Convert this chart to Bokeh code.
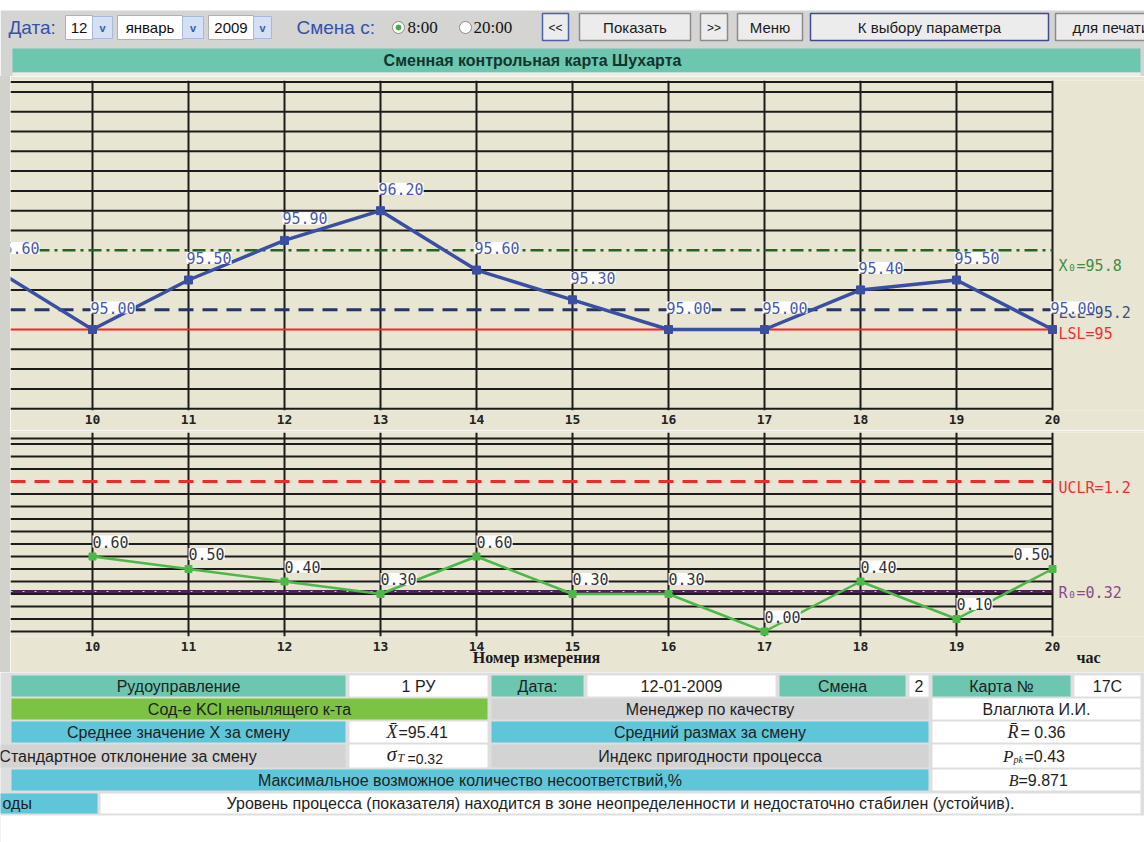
import numpy as np
from bokeh.plotting import figure
from bokeh.models import Range1d, FixedTicker, LabelSet, Label, ColumnDataSource, Div, LinearAxis
from bokeh.layouts import column, row
from bokeh.embed import file_html
from bokeh.resources import INLINE
from bokeh.core.properties import value

# ---------------- data ----------------
hours = [9, 10, 11, 12, 13, 14, 15, 16, 17, 18, 19, 20]
x_values = [95.60, 95.00, 95.50, 95.90, 96.20, 95.60, 95.30, 95.00, 95.00, 95.40, 95.50, 95.00]
r_hours = [10, 11, 12, 13, 14, 15, 16, 17, 18, 19, 20]
r_values = [0.60, 0.50, 0.40, 0.30, 0.60, 0.30, 0.30, 0.00, 0.40, 0.10, 0.50]
tick_hours = [10, 11, 12, 13, 14, 15, 16, 17, 18, 19, 20]
x_center = 95.8
x_lcl = 95.2
x_lsl = 95.0
r_ucl = 1.2
r_center = 0.32
x_levels = [94.2, 94.4, 94.6, 94.8, 95.0, 95.2, 95.4, 95.6, 95.8, 96.0, 96.2, 96.4, 96.6, 96.8, 97.0, 97.2, 97.4]
r_levels = [0.0, 0.1, 0.2, 0.3, 0.4, 0.5, 0.6, 0.7, 0.8, 0.9, 1.0, 1.1, 1.2, 1.3, 1.4, 1.5]
x_top_border = 97.5
r_top_border = 1.545
# axis caption ("Номер измерения") and unit ("час") under the range chart
caption_ticks = [14.625, 20.375]
caption_labels = ["Номер измерения", "час"]

# ---------------- page geometry / styles ----------------
PAGE_W = 1144
STRIP = 10
CH_W = PAGE_W - STRIP
HOUR_PX = 96.0
TICK10_PAGE_X = 92
x_start = tick_hours[0] - (TICK10_PAGE_X - STRIP) / HOUR_PX
x_end = x_start + CH_W / HOUR_PX
x_last = tick_hours[-1]

BEIGE = "#e8e5d3"
SIDE = "#d2d2cc"
GRID = "#1c1c1c"
MONO = "DejaVu Sans Mono"
SANS = "Liberation Sans"
SERIF = "Liberation Serif"


def chart(height, top, bottom, y0, y1, standoff):
    p = figure(width=CH_W, height=height, x_range=Range1d(x_start, x_end),
               y_range=Range1d(y0, y1), output_backend="svg", toolbar_location=None,
               y_axis_location=None, min_border_left=0, min_border_right=0,
               min_border_top=top, min_border_bottom=bottom,
               background_fill_color=BEIGE, border_fill_color=BEIGE,
               outline_line_color=None, margin=0)
    p.ygrid.visible = False
    p.xgrid.ticker = FixedTicker(ticks=tick_hours)
    p.xgrid.grid_line_color = GRID
    p.xgrid.grid_line_width = 2
    ax = p.xaxis[0]
    ax.ticker = FixedTicker(ticks=tick_hours)
    ax.axis_line_color = None
    ax.major_tick_line_color = None
    ax.minor_tick_line_color = None
    ax.major_tick_out = 0
    ax.major_label_standoff = standoff
    ax.major_label_text_font = MONO
    ax.major_label_text_font_style = "bold"
    ax.major_label_text_font_size = "13px"
    ax.major_label_text_color = "#222222"
    return p


def hlines(p, levels, skip, color, width):
    lv = [v for v in levels if all(abs(v - s) > 1e-6 for s in skip)]
    n = len(lv)
    p.segment(x0=[x_start] * n, y0=lv, x1=[x_last] * n, y1=lv,
              line_color=color, line_width=width)


# ---------------- X chart ----------------
XPX = 99.0
xp = chart(354, 4, 20, 95.0 - (410 - 329) / XPX, 95.0 + (329 - 80) / XPX, 4)
hlines(xp, x_levels + [x_top_border], [x_center, x_lcl, x_lsl], GRID, 2)
xp.segment(x0=[x_start], y0=[x_center], x1=[x_last], y1=[x_center],
           line_color="#1f661f", line_width=2.5, line_dash="13 5 3 5")
xp.segment(x0=[x_start], y0=[x_lcl], x1=[x_last], y1=[x_lcl],
           line_color="#27365e", line_width=3, line_dash="15 9")
xp.segment(x0=[x_start], y0=[x_lsl], x1=[x_last], y1=[x_lsl],
           line_color="#ff2020", line_width=1.8)
xp.line(hours, x_values, line_color="#3a4ea2", line_width=3.5)
xp.scatter(hours, x_values, marker="square", size=8, fill_color="#3a4ea2", line_color="#3a4ea2")

xp.add_layout(Label(x=x_last, y=x_center, text="X₀=95.8", x_offset=6, y_offset=-16,
                    text_baseline="middle", text_font=MONO, text_font_size="15px",
                    text_color="#3f8f3f"))
xp.add_layout(Label(x=x_last, y=x_lcl, text="LCL=95.2", x_offset=6, y_offset=-3,
                    text_baseline="middle", text_font=MONO, text_font_size="15px",
                    text_color="#3c4f8a"))
xp.add_layout(Label(x=x_last, y=x_lsl, text="LSL=95", x_offset=6, y_offset=-4,
                    text_baseline="middle", text_font=MONO, text_font_size="15px",
                    text_color="#f03030"))
xsrc = ColumnDataSource(dict(x=hours, y=x_values, t=[f"{v:.2f}" for v in x_values]))
xp.add_layout(LabelSet(x="x", y="y", text="t", source=xsrc, x_offset=-2, y_offset=22,
                       text_baseline="middle", text_font=value(MONO), text_font_size="15px",
                       text_color="#4a58ae", background_fill_color="white"))

# ---------------- R chart ----------------
RPX = 125.0
rp = chart(242, 2, 36, -(636 - 631) / RPX, (631 - 432) / RPX, 5)
hlines(rp, r_levels + [r_top_border], [r_ucl], GRID, 2)
rp.segment(x0=[x_start], y0=[r_ucl], x1=[x_last], y1=[r_ucl],
           line_color="#ee2a2a", line_width=3, line_dash="15 9")
rp.segment(x0=[x_start], y0=[r_center], x1=[x_last], y1=[r_center],
           line_color="#4a2350", line_width=3)
rp.segment(x0=[x_start], y0=[r_center], x1=[x_last], y1=[r_center],
           line_color="#d8c8d8", line_width=1, line_dash="2 10")
rp.line(r_hours, r_values, line_color="#4cb848", line_width=2.5)
rp.scatter(r_hours, r_values, marker="square", size=7, fill_color="#4cb848", line_color="#4cb848")

rp.add_layout(Label(x=x_last, y=r_ucl, text="UCLR=1.2", x_offset=6, y_offset=-6,
                    text_baseline="middle", text_font=MONO, text_font_size="15px",
                    text_color="#f03030"))
rp.add_layout(Label(x=x_last, y=r_center, text="R₀=0.32", x_offset=6, y_offset=-1,
                    text_baseline="middle", text_font=MONO, text_font_size="15px",
                    text_color="#8a4a8a"))
r_align = ["right" if h == x_last else "left" for h in r_hours]
r_xoff = [-3 if h == x_last else 0 for h in r_hours]
rsrc = ColumnDataSource(dict(x=r_hours, y=r_values, t=[f"{v:.2f}" for v in r_values],
                             a=r_align, o=r_xoff))
rp.add_layout(LabelSet(x="x", y="y", text="t", source=rsrc, x_offset="o", y_offset=15,
                       text_align="a", text_baseline="middle", text_font=value(MONO),
                       text_font_size="15px", text_color="#333333",
                       background_fill_color="white"))
cap_axis = LinearAxis(ticker=FixedTicker(ticks=caption_ticks),
                      major_label_overrides=dict(zip(caption_ticks, caption_labels)),
                      axis_line_color=None, major_tick_line_color=None, minor_tick_line_color=None,
                      major_tick_out=0, major_label_standoff=-5,
                      major_label_text_font=SERIF, major_label_text_font_style="bold",
                      major_label_text_font_size="16px", major_label_text_color="#1a1a1a")
rp.add_layout(cap_axis, "below")


# ---------------- header (form controls + title bar) ----------------
def canvas(height, bg):
    p = figure(width=PAGE_W, height=height, x_range=Range1d(0, PAGE_W), y_range=Range1d(height, 0),
               output_backend="svg", toolbar_location=None, x_axis_location=None,
               y_axis_location=None, min_border=0, outline_line_color=None,
               background_fill_color=bg, border_fill_color=bg, margin=0)
    p.grid.visible = False
    return p


def txt(p, x, y, s, size, color="#1a1a1a", font=SANS, style="normal", align="center"):
    p.text(x=[x], y=[y], text=[s], text_font=value(font), text_font_size=f"{size}px",
           text_font_style=style, text_color=color, text_align=align, text_baseline="middle")


hd = canvas(76, "white")
hd.quad(left=[0], right=[PAGE_W], top=[10], bottom=[76], fill_color="#d4d4d2", line_color=None)
hd.quad(left=[12], right=[1140], top=[48], bottom=[72], fill_color="#6cc6b0", line_color=None)
hd.quad(left=[12], right=[1140], top=[72], bottom=[76], fill_color="#eeede4", line_color=None)
txt(hd, 532, 60, "Сменная контрольная карта Шухарта", 16, "#12352c", style="bold")

txt(hd, 8, 27, "Дата:", 19, "#3552aa", align="left")
for (a, b, c, s) in [(65, 92, 112, "12"), (117, 182, 203, "январь"), (208, 253, 271, "2009")]:
    hd.quad(left=[a], right=[b], top=[15], bottom=[39], fill_color="white", line_color="#b0b0b0")
    hd.quad(left=[b], right=[c], top=[16], bottom=[38], fill_color="#d4e0f4", line_color="#a8b8d8")
    txt(hd, (a + b) / 2, 27, s, 15, "#111111")
    txt(hd, (b + c) / 2, 27, "v", 11, "#3a5ca8", style="bold")
txt(hd, 296, 27, "Смена с:", 19, "#3552aa", align="left")
hd.scatter(x=[398, 465], y=[27, 27], size=12, fill_color="white", line_color="#8a8a8a")
hd.scatter(x=[398], y=[27], size=5, fill_color="#48a848", line_color="#48a848")
txt(hd, 407, 27, "8:00", 17, "#111111", font=SERIF, align="left")
txt(hd, 473, 27, "20:00", 17, "#111111", font=SERIF, align="left")
for (a, b, s, border, fs) in [(542, 568, "<<", "#4a62a8", 12), (579, 690, "Показать", "#8c8c8c", 15),
                              (700, 727, ">>", "#8c8c8c", 12), (737, 802, "Меню", "#8c8c8c", 15),
                              (810, 1048, "К выбору параметра", "#3c4c8c", 15)]:
    hd.quad(left=[a], right=[b], top=[13], bottom=[40], fill_color="#ececec", line_color=border,
            line_width=1.5)
    txt(hd, (a + b) / 2, 27, s, fs, "#1a1a1a")
hd.quad(left=[1055], right=[1160], top=[13], bottom=[40], fill_color="#ececec", line_color="#8c8c8c",
        line_width=1.5)
txt(hd, 1072, 27, "для печати", 15, "#1a1a1a", align="left")

# ---------------- info table ----------------
TEAL = "#6cc6b0"
GREEN = "#7cc243"
CYAN = "#5ec6d8"
GRAYC = "#d3d3d3"
WHITE = "#ffffff"
FS = 16
tb = canvas(170, "#dedede")
tb.quad(left=[0], right=[PAGE_W], top=[143], bottom=[170], fill_color="white", line_color=None)
rows_y = [(3, 24), (26, 47), (49, 70), (72, 95), (97, 118), (121, 141)]
cells = [
    (0, 11, 345, TEAL, "Рудоуправление"), (0, 349, 487, WHITE, "1 РУ"), (0, 491, 583, TEAL, "Дата:"),
    (0, 587, 775, WHITE, "12-01-2009"), (0, 779, 905, TEAL, "Смена"), (0, 909, 928, WHITE, "2"),
    (0, 932, 1070, TEAL, "Карта №"), (0, 1074, 1140, WHITE, "17С"),
    (1, 11, 487, GREEN, "Сод-е KCl непылящего к-та"), (1, 491, 928, GRAYC, "Менеджер по качеству"),
    (1, 932, 1140, WHITE, "Влаглюта И.И."),
    (2, 11, 345, CYAN, "Среднее значение X за смену"), (2, 349, 487, WHITE, ""),
    (2, 491, 928, CYAN, "Средний размах за смену"), (2, 932, 1140, WHITE, ""),
    (3, -90, 345, GRAYC, "Стандартное отклонение за смену"), (3, 349, 487, WHITE, ""),
    (3, 491, 928, GRAYC, "Индекс пригодности процесса"), (3, 932, 1140, WHITE, ""),
    (4, 11, 928, CYAN, "Максимальное возможное количество несоответствий,%"),
    (4, 932, 1140, WHITE, ""),
    (5, -60, 97, CYAN, ""), (5, 100, 1140, WHITE,
                              "Уровень процесса (показателя) находится в зоне неопределенности и недостаточно стабилен (устойчив)."),
]
for (r, a, b, col, s) in cells:
    t0, t1 = rows_y[r]
    tb.quad(left=[a], right=[b], top=[t0], bottom=[t1], fill_color=col, line_color=None)
    if s:
        txt(tb, (a + b) / 2, (t0 + t1) / 2, s, FS, "#1e1e1e")
txt(tb, 2, 131, "оды", FS, "#1e1e1e", align="left")
# formula cells
txt(tb, 397, 59.5, "X̄", 18, "#1e1e1e", font=SERIF, style="italic", align="right")
txt(tb, 398, 59.5, "=95.41", FS, "#1e1e1e", align="left")
txt(tb, 1018, 59.5, "R̄", 18, "#1e1e1e", font=SERIF, style="italic", align="right")
txt(tb, 1020, 59.5, "= 0.36", FS, "#1e1e1e", align="left")
txt(tb, 396, 81, "σ", 20, "#1e1e1e", font=SERIF, style="italic", align="right")
txt(tb, 397, 85, "T", 12, "#1e1e1e", font=SERIF, style="italic", align="left")
txt(tb, 407, 86, "=0.32", 14, "#1e1e1e", align="left")
txt(tb, 1013, 83.5, "P", 17, "#1e1e1e", font=SERIF, style="italic", align="right")
txt(tb, 1013, 87, "pk", 10, "#1e1e1e", font=SERIF, style="italic", align="left")
txt(tb, 1024, 83.5, "=0.43", FS, "#1e1e1e", align="left")
txt(tb, 1018, 107.5, "B", 16, "#1e1e1e", font=SERIF, style="italic", align="right")
txt(tb, 1018, 107.5, "=9.871", FS, "#1e1e1e", align="left")


def strip(h):
    return Div(text="", width=STRIP, height=h, margin=0, styles={"background-color": SIDE})


layout = column(hd, row(strip(354), xp, spacing=0), row(strip(242), rp, spacing=0), tb, spacing=0)
open("out.html", "w").write(file_html(layout, INLINE))
